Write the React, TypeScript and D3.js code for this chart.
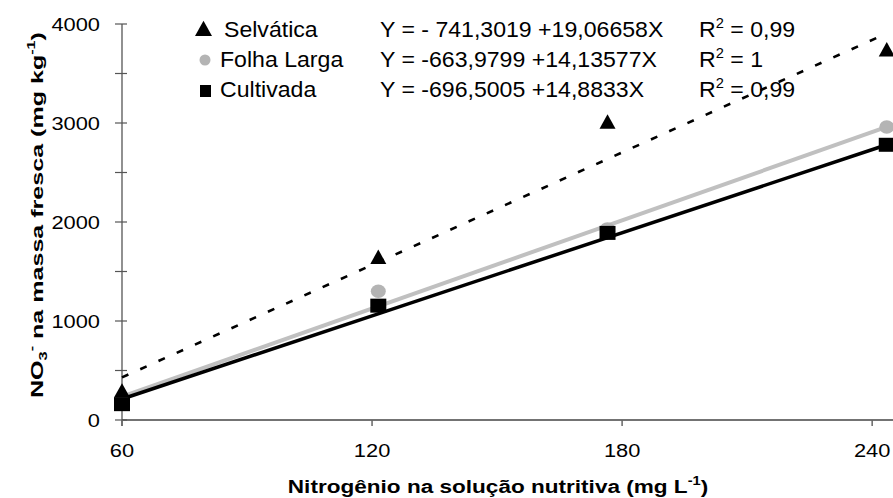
import React from "react";
import * as d3 from "d3";

// nitrogen levels (x positions of the points as drawn)
const nLevels = [60, 121.5, 176.5, 243.5];
const selvatica = [285, 1635, 3000, 3730];
const folhaLarga = [190, 1300, 1930, 2960];
const cultivada = [160, 1155, 1890, 2780];

// trend line end values at first/last level
const trendX = [60, 243.5];
const trendSelvatica = [430, 3905];
const trendFolha = [235, 2960];
const trendCultivada = [212, 2780];

const yTicks = [0, 1000, 2000, 3000, 4000];
const yMinor = [500, 1500, 2500, 3500];
const xTicks = [60, 120, 180, 240];

const legendNames = ["Selvática", "Folha Larga", "Cultivada"];
const legendEq = ["Y = - 741,3019 +19,06658X", "Y = -663,9799 +14,13577X", "Y = -696,5005 +14,8833X"];
const legendR2 = ["0,99", "1", "0,99"];

const FONT = "'Liberation Sans', Arial, Helvetica, sans-serif";

function T({ x, y, sx = 1, size, anchor = "start", weight = "normal", children }: any) {
  return (
    <text
      transform={`translate(${x},${y}) scale(${sx},1)`}
      fontSize={size}
      fontFamily={FONT}
      fontWeight={weight}
      textAnchor={anchor}
      fill="#000"
    >
      {children}
    </text>
  );
}

function Tri({ cx, cy, s }: any) {
  const h = s * 0.9;
  return <path d={`M${cx},${cy - h * 0.6} L${cx + s / 2},${cy + h * 0.4} L${cx - s / 2},${cy + h * 0.4} Z`} fill="#000" />;
}

export default function App() {
  const W = 893, H = 498;
  const x = d3.scaleLinear().domain([60, 245]).range([122, 893]);
  const y = d3.scaleLinear().domain([0, 4000]).range([420, 24]);

  const line = d3.line<[number, number]>().x((d) => x(d[0])).y((d) => y(d[1]));
  const tr = (v: number[]) => trendX.map((xx, i) => [xx, v[i]] as [number, number]);

  return (
    <svg width={W} height={H} style={{ position: "absolute", left: 0, top: 0, background: "#fff" }}>
      {/* axes */}
      <line x1={x(60)} x2={x(60)} y1={y(4000)} y2={y(0) + 6} stroke="#555" strokeWidth={1.3} />
      <line x1={x(60)} x2={W} y1={y(0)} y2={y(0)} stroke="#444" strokeWidth={1.5} />
      {yTicks.concat(yMinor).map((t) => (
        <line key={t} x1={x(60) - 7} x2={x(60) + 5} y1={y(t)} y2={y(t)} stroke="#555" strokeWidth={1.2} />
      ))}
      {xTicks.map((t) => (
        <line key={t} x1={x(t)} x2={x(t)} y1={y(0)} y2={y(0) + 6} stroke="#666" strokeWidth={1.5} />
      ))}
      {yTicks.map((t) => (
        <T key={t} x={100} y={y(t) + 7} size={19} sx={1.15} anchor="end">{t}</T>
      ))}
      {xTicks.map((t) => (
        <T key={t} x={x(t)} y={457} size={19} sx={1.15} anchor="middle">{t}</T>
      ))}

      {/* axis titles */}
      <text
        transform={`translate(43,215) rotate(-90)`}
        fontSize={17}
        fontFamily={FONT}
        fontWeight="bold"
        textAnchor="middle"
        textLength={366}
        lengthAdjust="spacingAndGlyphs"
      >
        NO<tspan fontSize={11} dy={4}>3</tspan>
        <tspan fontSize={11} dy={-12}>-</tspan>
        <tspan dy={8}> na massa fresca (mg kg</tspan>
        <tspan fontSize={11} dy={-8}>-1</tspan>
        <tspan dy={8}>)</tspan>
      </text>
      <T x={498} y={493} size={18.5} sx={1.22} anchor="middle" weight="bold">
        Nitrogênio na solução nutritiva (mg L<tspan fontSize={12} dy={-8}>-1</tspan>
        <tspan dy={8}>)</tspan>
      </T>

      {/* trend lines */}
      <path d={line(tr(trendFolha)) || ""} fill="none" stroke="#c0c0c0" strokeWidth={4} />
      <path d={line(tr(trendCultivada)) || ""} fill="none" stroke="#000" strokeWidth={3.5} />
      <path d={line(tr(trendSelvatica)) || ""} fill="none" stroke="#000" strokeWidth={2.6} strokeDasharray="7,13" />

      {/* markers */}
      {nLevels.map((n, i) => (
        <ellipse key={"c" + i} cx={x(n)} cy={y(folhaLarga[i])} rx={7.5} ry={6.8} fill="#b4b4b4" />
      ))}
      {nLevels.map((n, i) => (
        <Tri key={"t" + i} cx={x(n)} cy={y(selvatica[i])} s={16} />
      ))}
      {nLevels.map((n, i) => (
        <rect key={"s" + i} x={x(n) - 8} y={y(cultivada[i]) - 7} width={16} height={14} fill="#000" />
      ))}

      {/* legend */}
      {legendNames.map((name, i) => {
        const by = 37 + i * 30;
        return (
          <g key={name}>
            {i === 0 && <Tri cx={203.5} cy={by - 7} s={17} />}
            {i === 1 && <circle cx={205} cy={by - 7} r={5.5} fill="#b4b4b4" />}
            {i === 2 && <rect x={200} y={by - 12} width={11} height={12} fill="#000" />}
            <T x={i === 0 ? 224 : 220} y={by} size={22} sx={1.05}>{name}</T>
            <T x={380} y={by} size={22} sx={1.05}>{legendEq[i]}</T>
            <T x={699} y={by} size={22} sx={1.05}>
              R<tspan fontSize={14} dy={-9}>2</tspan>
              <tspan dy={9}> = {legendR2[i]}</tspan>
            </T>
          </g>
        );
      })}
    </svg>
  );
}
